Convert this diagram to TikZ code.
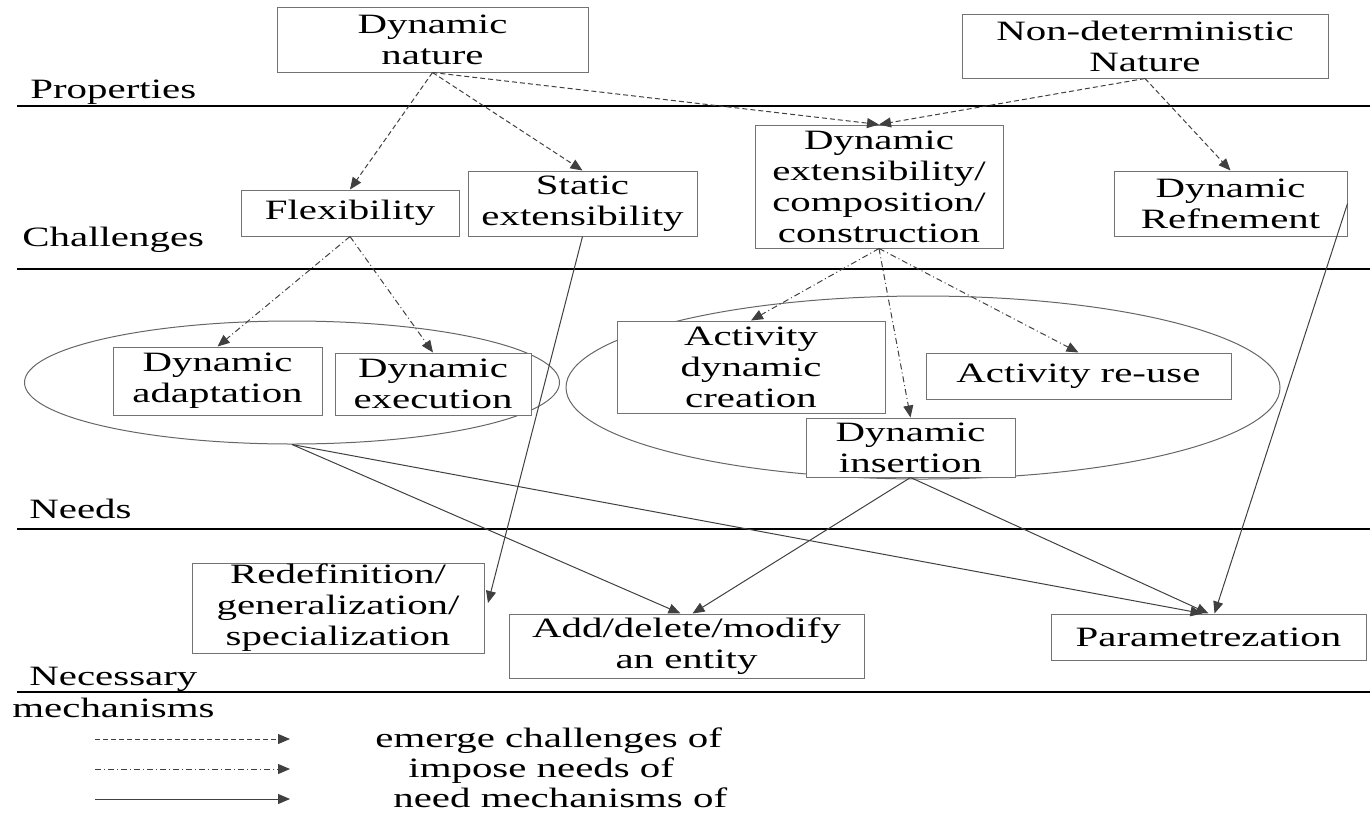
\documentclass[tikz,border=0pt]{standalone}
\usepackage{fontspec}
\setmainfont[FakeStretch=1.46]{Liberation Serif}
\usetikzlibrary{arrows.meta,shapes.geometric,calc}

\begin{document}
\begin{tikzpicture}[x=0.5pt,y=-0.5pt,
    font=\fontsize{14}{15.5}\selectfont,
    box/.style={draw=black!55, line width=0.5pt, fill=white, align=center, inner sep=0pt},
    ring/.style={ellipse, draw=black!60, line width=0.5pt, inner sep=0pt},
    emerge/.style={-{Triangle[length=6pt,width=5pt]}, draw=black!75, line width=0.5pt, dash pattern=on 2.5pt off 1.5pt},
    impose/.style={-{Triangle[length=6pt,width=5pt]}, draw=black!75, line width=0.5pt, dash pattern=on 3pt off 1.5pt on 0.5pt off 1.5pt},
    mech/.style={-{Triangle[length=6pt,width=5pt]}, draw=black!75, line width=0.5pt},
    sep/.style={line width=1pt, black},
    layer/.style={anchor=base west, inner sep=0pt}]
    \useasboundingbox (0,0) rectangle (1370,815);

    % Layers
    \draw[sep] (17,106) -- (1370,106);
    \draw[sep] (17,269) -- (1370,269);
    \draw[sep] (17,529) -- (1370,529);
    \draw[sep] (17,692) -- (1370,692);
    \node[layer] (lprop) at (30,98) {Properties};
    \node[layer] (lchal) at (22,246) {Challenges};
    \node[layer] (lneed) at (29,518) {Needs};
    \node[layer] (lnec) at (29,685) {Necessary};
    \node[layer] (lmech) at (12,717) {mechanisms};

    % Groups of needs
    \node[ring, minimum width=267.5pt, minimum height=61.5pt] (grpa) at (292,382.5) {};
    \node[ring, minimum width=357pt, minimum height=91.5pt] (grpb) at (923,387.5) {};

    % Properties
    \node[box, minimum width=155.5pt, minimum height=32.5pt] (nature) at (432.5,39.5) {Dynamic\\nature};
    \node[box, minimum width=183pt, minimum height=32pt] (nondet) at (1145,46) {Non-deterministic\\Nature};

    % Challenges
    \node[box, minimum width=109pt, minimum height=23pt] (flex) at (350,213) {Flexibility};
    \node[box, minimum width=114.5pt, minimum height=32.5pt] (static) at (582.5,203.5) {Static\\extensibility};
    \node[box, minimum width=124pt, minimum height=61.5pt] (dynext) at (879,186.5) {Dynamic\\extensibility/\\composition/\\construction};
    \node[box, minimum width=116.5pt, minimum height=32.5pt] (refine) at (1230.5,203.5) {Dynamic\\Refnement};

    % Needs
    \node[box, minimum width=104.5pt, minimum height=34pt] (adapt) at (217.5,381) {Dynamic\\adaptation};
    \node[box, minimum width=98pt, minimum height=31pt] (exec) at (433,384) {Dynamic\\execution};
    \node[box, minimum width=134pt, minimum height=46pt] (create) at (751,367) {Activity\\dynamic\\creation};
    \node[box, minimum width=152.5pt, minimum height=23pt] (reuse) at (1078.5,376) {Activity re-use};
    \node[box, minimum width=104.5pt, minimum height=29.5pt] (insert) at (910.5,447.5) {Dynamic\\insertion};

    % Necessary mechanisms
    \node[box, minimum width=146pt, minimum height=45pt] (redef) at (338,608) {Redefinition/\\generalization/\\specialization};
    \node[box, minimum width=177.5pt, minimum height=32pt] (adddel) at (686.5,646) {Add/delete/modify\\an entity};
    \node[box, minimum width=157.5pt, minimum height=23pt] (param) at (1208.5,637) {Parametrezation};
    \coordinate (redefin) at (488,603);

    % emerge challenges of
    \draw[emerge] (nature.south) -- (flex.north);
    \draw[emerge] (nature.south) -- (static.north);
    \draw[emerge] (nature.south) -- (dynext.north);
    \draw[emerge] (nondet.south) -- (dynext.north);
    \draw[emerge] (nondet.south) -- (refine.north);

    % impose needs of
    \draw[impose] (flex.south) -- (adapt.north);
    \draw[impose] (flex.south) -- (exec.north);
    \draw[impose] (dynext.south) -- (create.north);
    \draw[impose] (dynext.south) -- (insert.north);
    \draw[impose] (dynext.south) -- (reuse.north);

    % need mechanisms of
    \draw[mech] (static.south) -- (redefin);
    \draw[mech] (grpa.south) -- ($(adddel.north)+(-6,0)$);
    \draw[mech] (grpa.south) -- ($(param.north)+(-6,0)$);
    \draw[mech] (insert.south) -- ($(adddel.north)+(6,0)$);
    \draw[mech] (insert.south) -- (param.north);
    \draw[mech] (refine.east) -- ($(param.north)+(6,0)$);

    % Legend
    \coordinate (ka) at (95,739);  \coordinate (kb) at (290,739);
    \coordinate (kc) at (95,769);  \coordinate (kd) at (290,769);
    \coordinate (ke) at (95,799);  \coordinate (kf) at (290,799);
    \draw[emerge] (ka) -- (kb);
    \draw[impose] (kc) -- (kd);
    \draw[mech] (ke) -- (kf);
    \node[layer] (tka) at (375,747) {emerge challenges of};
    \node[layer] (tkc) at (408,777) {impose needs of};
    \node[layer] (tke) at (393,807) {need mechanisms of};
\end{tikzpicture}
\end{document}
